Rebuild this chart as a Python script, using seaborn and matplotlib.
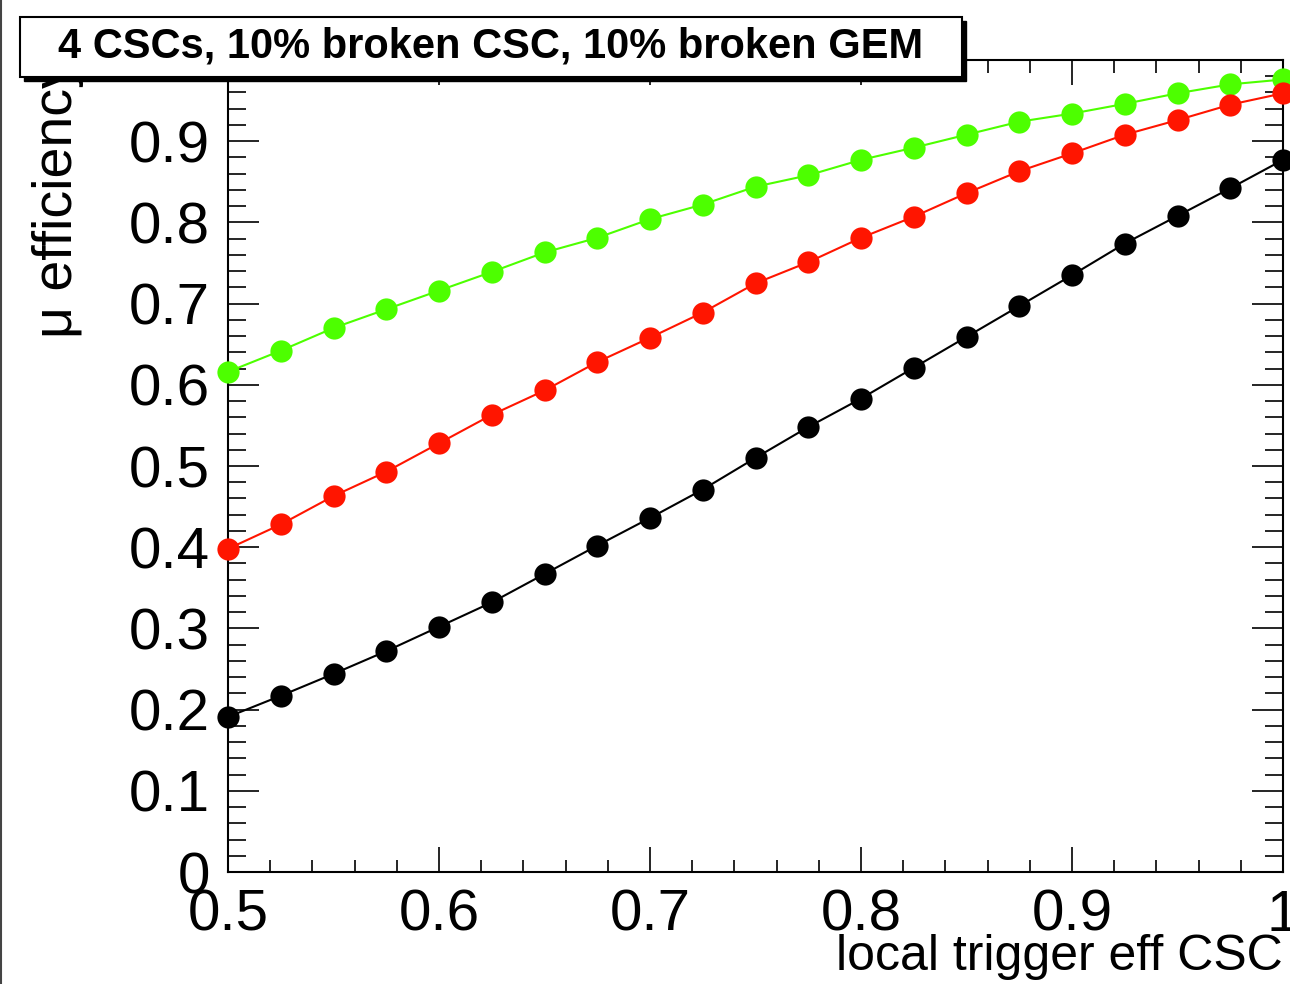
import numpy as np
import pandas as pd
import matplotlib
matplotlib.use("Agg")
import matplotlib.pyplot as plt
from matplotlib.ticker import MultipleLocator, FixedLocator
from matplotlib.patches import Rectangle
import seaborn as sns

# ---------------- data ----------------
trigger_eff = [0.5, 0.525, 0.55, 0.575, 0.6, 0.625, 0.65, 0.675, 0.7, 0.725, 0.75,
               0.775, 0.8, 0.825, 0.85, 0.875, 0.9, 0.925, 0.95, 0.975, 1.0]
eff_green = [0.616, 0.642, 0.670, 0.693, 0.716, 0.739, 0.763, 0.781, 0.804, 0.822, 0.844,
             0.858, 0.877, 0.892, 0.908, 0.924, 0.934, 0.946, 0.959, 0.970, 0.976]
eff_red = [0.398, 0.428, 0.463, 0.493, 0.528, 0.563, 0.593, 0.628, 0.658, 0.689, 0.725,
           0.751, 0.781, 0.807, 0.836, 0.863, 0.885, 0.908, 0.926, 0.945, 0.959]
eff_black = [0.191, 0.217, 0.244, 0.272, 0.302, 0.332, 0.367, 0.402, 0.436, 0.471, 0.510,
             0.548, 0.583, 0.621, 0.659, 0.697, 0.735, 0.774, 0.808, 0.842, 0.877]
series_names = ["green", "red", "black"]
series_colors = {"green": "#4dff00", "red": "#ff1500", "black": "#000000"}

x_ticks = [0.5, 0.6, 0.7, 0.8, 0.9, 1.0]
x_tick_labels = ["0.5", "0.6", "0.7", "0.8", "0.9", "1"]
y_ticks = [0.0, 0.1, 0.2, 0.3, 0.4, 0.5, 0.6, 0.7, 0.8, 0.9]
y_tick_labels = ["0", "0.1", "0.2", "0.3", "0.4", "0.5", "0.6", "0.7", "0.8", "0.9"]

title_text = "4 CSCs, 10% broken CSC, 10% broken GEM"
x_title = "local trigger eff CSC"
y_title = "\u03bc efficiency"

df = pd.DataFrame({
    "x": trigger_eff * 3,
    "y": eff_green + eff_red + eff_black,
    "series": [n for n in series_names for _ in trigger_eff],
})

# ---------------- figure ----------------
sns.set_theme(style="white")
plt.rcParams["font.family"] = ["Liberation Sans", "DejaVu Sans"]
plt.rcParams["text.color"] = "black"
plt.rcParams["axes.labelcolor"] = "black"

W, H = 1290, 984
fig = plt.figure(figsize=(W / 100, H / 100), dpi=100)
fig.patch.set_facecolor("white")

ax_l, ax_r, ax_t, ax_b = 228, 1283, 60, 872
ax = fig.add_axes([ax_l / W, (H - ax_b) / H, (ax_r - ax_l) / W, (ax_b - ax_t) / H])
ax.set_facecolor("white")

sns.lineplot(data=df, x="x", y="y", hue="series", palette=series_colors,
             hue_order=series_names, marker="o", markersize=16, markeredgewidth=0,
             linewidth=1.5, legend=False, ax=ax, zorder=3)
for ln in ax.lines:
    ln.set_clip_on(False)

ax.set_xlim(0.5, 1.0)
ax.set_ylim(0.0, 1.0)

ax.xaxis.set_major_locator(FixedLocator(x_ticks))
ax.set_xticklabels(x_tick_labels)
ax.yaxis.set_major_locator(FixedLocator(y_ticks))
ax.set_yticklabels(y_tick_labels)
ax.xaxis.set_minor_locator(MultipleLocator(0.02))
ax.yaxis.set_minor_locator(MultipleLocator(0.02))

for s in ax.spines.values():
    s.set_color("black")
    s.set_linewidth(1.5)
    s.set_visible(True)

ax.tick_params(axis="x", which="major", direction="in", length=18, width=1.2,
               top=True, bottom=True, labelsize=42, pad=12, colors="black")
ax.tick_params(axis="x", which="minor", direction="in", length=9, width=1.2,
               top=True, bottom=True, colors="black")
ax.tick_params(axis="y", which="major", direction="in", length=22, width=1.2,
               left=True, right=True, labelsize=42, pad=13, colors="black")
ax.tick_params(axis="y", which="minor", direction="in", length=13, width=1.2,
               left=True, right=True, colors="black")

ax.set_xlabel(x_title, fontsize=36, ha="right", color="black")
ax.xaxis.set_label_coords(1.0, -(934 - ax_b) / (ax_b - ax_t))
ax.set_ylabel(y_title, fontsize=40, ha="right", color="black")
ax.yaxis.set_label_coords(-(ax_l - 84) / (ax_r - ax_l), 1.0)
ax.grid(False)

# title box with shadow (ROOT style)
bx0, bx1, by0, by1 = 20, 962, 17, 77
fig.patches.append(Rectangle(((bx0 + 4) / W, (H - by1 - 4) / H), (bx1 - bx0) / W, (by1 - by0) / H,
                             transform=fig.transFigure, facecolor="black", edgecolor="black",
                             zorder=10))
fig.patches.append(Rectangle((bx0 / W, (H - by1) / H), (bx1 - bx0) / W, (by1 - by0) / H,
                             transform=fig.transFigure, facecolor="white", edgecolor="black",
                             linewidth=1.5, zorder=11))
fig.text((bx0 + bx1) / 2 / W, (H - (by0 + by1) / 2) / H, title_text, ha="center", va="center",
         fontsize=30, fontweight="bold", color="black", zorder=12)

# thin left border like the screenshot
fig.add_artist(plt.Line2D([1 / W, 1 / W], [0, 1], transform=fig.transFigure,
                          color="#444444", linewidth=1.5))

fig.savefig("out.png", dpi=100, facecolor="white")
